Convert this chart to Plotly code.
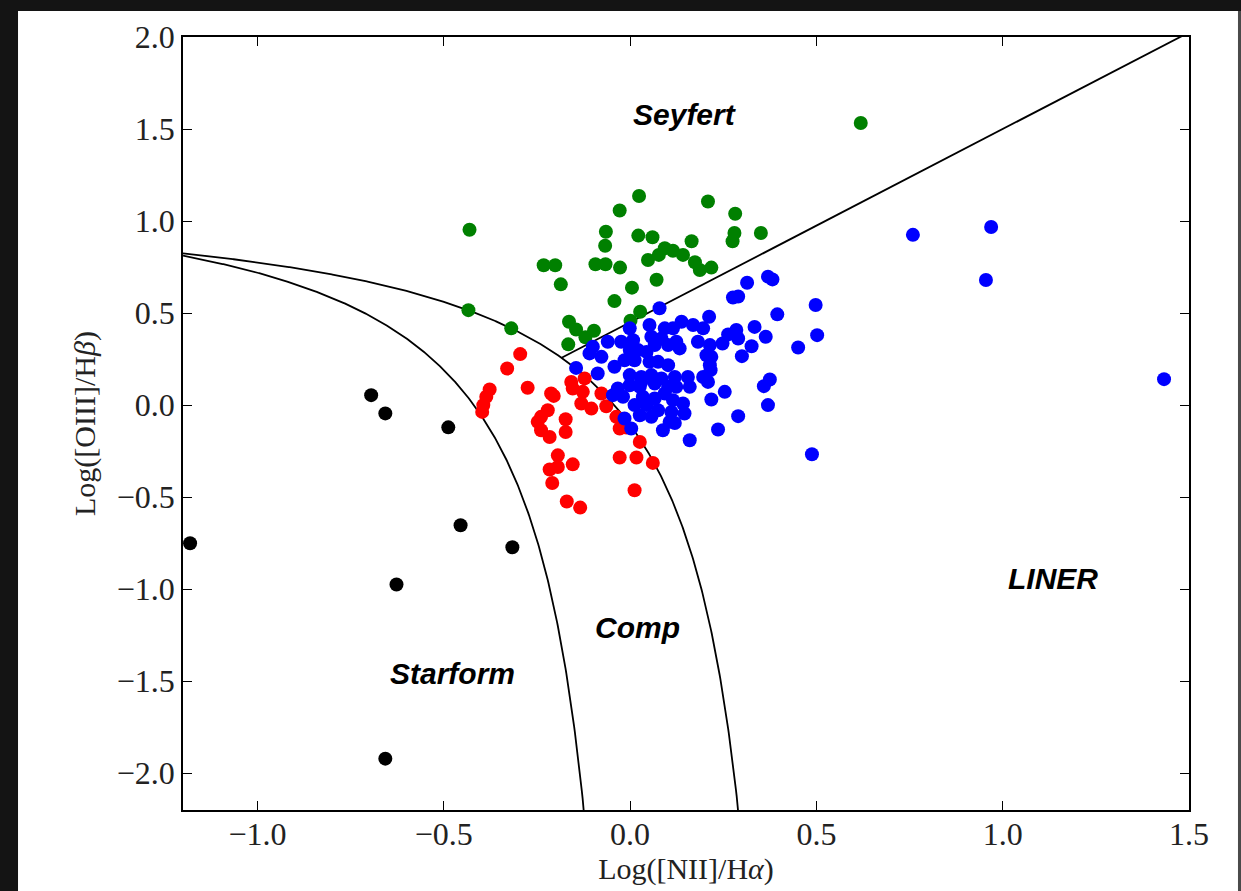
import numpy as np
import plotly.graph_objects as go

# ---- data ----
black_x = [-1.181, -0.695, -0.657, -0.488, -0.455, -0.316, -0.627, -0.657]
black_y = [-0.751, 0.054, -0.045, -0.121, -0.653, -0.772, -0.975, -1.921]

green_x = [-0.431, 0.619, 0.024, -0.028, 0.209, 0.282, -0.065, 0.022, 0.060, 0.165,
           0.280, 0.275, 0.351, -0.067, -0.232, -0.201, -0.093, -0.066, -0.027, 0.048,
           0.077, 0.093, 0.115, 0.142, 0.174, 0.187, 0.218, 0.071, -0.186, 0.005,
           -0.042, 0.027, 0.001, -0.434, -0.319, -0.164, -0.145, -0.120, -0.097, -0.166]
green_y = [0.953, 1.533, 1.136, 1.057, 1.106, 1.040, 0.942, 0.921, 0.912, 0.890,
           0.935, 0.890, 0.935, 0.866, 0.760, 0.760, 0.765, 0.765, 0.747, 0.788,
           0.816, 0.852, 0.839, 0.816, 0.776, 0.734, 0.747, 0.681, 0.656, 0.638,
           0.565, 0.507, 0.458, 0.516, 0.417, 0.453, 0.411, 0.369, 0.404, 0.330]

red_x = [-0.295, -0.330, -0.377, -0.386, -0.394, -0.397, -0.275, -0.212, -0.205, -0.221,
         -0.239, -0.248, -0.239, -0.216, -0.173, -0.173, -0.194, -0.216, -0.194, -0.154,
         -0.209, -0.170, -0.134, -0.158, -0.122, -0.154, -0.127, -0.131, -0.104, -0.077,
         -0.064, -0.037, -0.028, -0.010, -0.028, 0.017, 0.012, 0.026, 0.061]
red_y = [0.277, 0.199, 0.085, 0.045, 0.000, -0.037, 0.094, 0.063, 0.050, -0.028,
         -0.064, -0.091, -0.137, -0.173, -0.077, -0.146, -0.273, -0.350, -0.336, -0.322,
         -0.423, -0.524, -0.557, 0.126, 0.145, 0.090, 0.072, 0.009, -0.019, 0.063,
         -0.006, -0.064, -0.127, -0.122, -0.285, -0.285, -0.463, -0.200, -0.314]

blue_x = [0.079, 0.314, 0.370, 0.382, 0.276, 0.290, 0.395, 0.498, 0.502, 0.451,
          0.334, 0.364, 0.285, 0.290, 0.263, 0.326, 0.300, 0.375, 0.359, 0.370,
          0.290, 0.212, 0.138, 0.169, 0.196, 0.115, 0.248, 0.124, 0.133, 0.182,
          0.214, 0.205, 0.214, 0.218, 0.216, 0.120, 0.155, 0.196, 0.124, 0.160,
          0.209, 0.115, 0.142, 0.146, 0.120, 0.218, 0.254, 0.236, 0.160, 0.088,
          0.488, -0.001, 0.052, 0.093, 0.057, 0.084, -0.024, 0.008, -0.060, -0.100,
          -0.109, -0.077, -0.001, 0.021, -0.015, 0.012, 0.044, 0.052, 0.066, 0.102,
          0.075, 0.102, -0.042, -0.087, -0.145, -0.001, 0.030, 0.057, 0.084, 0.030,
          -0.033, -0.001, 0.026, 0.066, 0.102, -0.046, -0.019, 0.012, 0.044, 0.034,
          0.066, 0.093, 0.026, 0.057, 0.075, 0.111, -0.015, 0.003, 0.106,
          0.759, 0.969, 0.955, 1.433]
blue_y = [0.526, 0.665, 0.698, 0.683, 0.585, 0.590, 0.493, 0.544, 0.380, 0.313,
          0.425, 0.371, 0.408, 0.362, 0.384, 0.320, 0.266, 0.139, 0.103, 0.000,
          -0.060, 0.480, 0.453, 0.435, 0.417, 0.417, 0.335, 0.344, 0.308, 0.344,
          0.326, 0.271, 0.217, 0.262, 0.190, 0.153, 0.153, 0.153, 0.099, 0.099,
          0.126, 0.027, 0.009, -0.046, -0.097, 0.030, 0.072, -0.133, -0.191, -0.137,
          -0.267, 0.417, 0.435, 0.417, 0.371, 0.362, 0.344, 0.353, 0.344, 0.317,
          0.281, 0.262, 0.299, 0.299, 0.244, 0.244, 0.289, 0.235, 0.326, 0.326,
          0.235, 0.217, 0.208, 0.172, 0.202, 0.163, 0.153, 0.163, 0.145, 0.126,
          0.090, 0.108, 0.099, 0.117, 0.099, 0.054, 0.045, 0.000, 0.000, 0.045,
          0.036, 0.063, -0.055, -0.064, -0.028, -0.037, -0.073, -0.127, -0.091,
          0.925, 0.968, 0.680, 0.141]

region_labels = ["Seyfert", "LINER", "Comp", "Starform"]
region_x = [0.146, 1.135, 0.020, -0.477]
region_y = [1.577, -0.942, -1.208, -1.459]

x_ticks = [-1.0, -0.5, 0.0, 0.5, 1.0, 1.5]
y_ticks = [-2.0, -1.5, -1.0, -0.5, 0.0, 0.5, 1.0, 1.5, 2.0]

# ---- demarcation lines (Kauffmann 2003, Kewley 2001, Schawinski 2007) ----
xk = np.linspace(-1.2, 0.0499, 600)
yk = 0.61 / (xk - 0.05) + 1.3
xw = np.linspace(-1.2, 0.4699, 800)
yw = 0.61 / (xw - 0.47) + 1.19
xs = np.linspace(-0.1838, 1.5, 50)
ys = 1.05 * xs + 0.45

fig = go.Figure()
line_style = dict(color="black", width=1.8)
fig.add_trace(go.Scatter(x=xk, y=yk, mode="lines", line=line_style, hoverinfo="skip"))
fig.add_trace(go.Scatter(x=xw, y=yw, mode="lines", line=line_style, hoverinfo="skip"))
fig.add_trace(go.Scatter(x=xs, y=ys, mode="lines", line=line_style, hoverinfo="skip"))

mk = dict(size=14, line=dict(width=0))
fig.add_trace(go.Scatter(x=black_x, y=black_y, mode="markers", marker=dict(color="#000000", **mk)))
fig.add_trace(go.Scatter(x=green_x, y=green_y, mode="markers", marker=dict(color="#008000", **mk)))
fig.add_trace(go.Scatter(x=red_x, y=red_y, mode="markers", marker=dict(color="#ff0000", **mk)))
fig.add_trace(go.Scatter(x=blue_x, y=blue_y, mode="markers", marker=dict(color="#0000ff", **mk)))

for t, x, y in zip(region_labels, region_x, region_y):
    fig.add_annotation(x=x, y=y, text=f"<b><i>{t}</i></b>", showarrow=False,
                       font=dict(family="Liberation Sans", size=30, color="black"))

# page frame (dark border of the screenshot)
fig.add_shape(type="rect", xref="paper", yref="paper", x0=-0.164, x1=1.0487,
              y0=-0.11, y1=1.0336, fillcolor="white", line=dict(width=0), layer="below")
fig.add_shape(type="rect", xref="paper", yref="paper", x0=1.0487, x1=1.06,
              y0=-0.11, y1=1.0336, fillcolor="#4a4a4a", line=dict(width=0), layer="below")

axis_common = dict(
    showgrid=False, zeroline=False, showline=True, linecolor="black", linewidth=1.8,
    mirror="allticks", ticks="inside", ticklen=9, tickwidth=1, tickcolor="black",
    tickfont=dict(family="Liberation Serif", size=32, color="#222"),
    tickformat=".1f", automargin=False,
)
fig.update_xaxes(range=[-1.2, 1.5], tickvals=x_ticks, ticklabelstandoff=-5, **axis_common,
                 title=dict(text="Log([NII]/H<i>α</i>)", standoff=6,
                            font=dict(family="Liberation Serif", size=30, color="#222")))
fig.update_yaxes(range=[-2.2, 2.0], tickvals=y_ticks, **axis_common,
                 title=dict(text="Log([OIII]/H<i>β</i>)", standoff=12,
                            font=dict(family="Liberation Serif", size=30, color="#222")))

fig.update_layout(
    width=1241, height=891,
    margin=dict(l=183, r=52, t=37, b=81),
    paper_bgcolor="#141414", plot_bgcolor="white",
    showlegend=False,
)

fig.write_html("out.html", config={"displayModeBar": False},
               post_script="document.body.style.margin='0';document.body.style.overflow='hidden';")
